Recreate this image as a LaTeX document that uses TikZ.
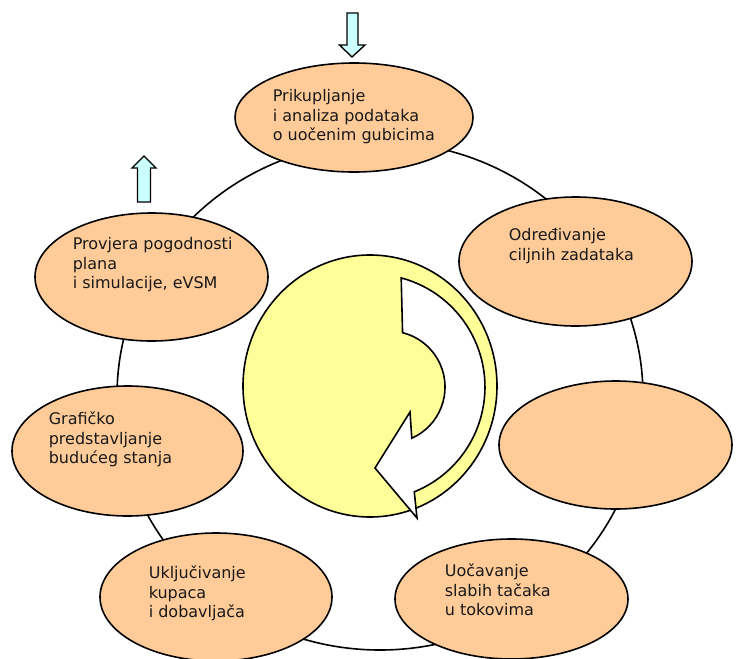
\documentclass[tikz,border=0pt]{standalone}
\usepackage{fontspec}
\setmainfont{DejaVu Sans}
\usetikzlibrary{shapes.geometric}
\definecolor{peach}{HTML}{FFCC99}
\definecolor{lyellow}{HTML}{FFFF99}
\definecolor{lcyan}{HTML}{CCFFFF}
\begin{document}
\begin{tikzpicture}[x=1pt,y=-1pt, line width=1.6pt,
  stage/.style={ellipse, draw=black, fill=peach, inner sep=0pt},
  lbl/.style={anchor=north west, inner sep=0pt, align=left, font=\fontsize{16}{19.5}\selectfont, text=black!90},
  blockarrow/.style={draw=black, fill=lcyan, line width=1.4pt, line join=miter}]
\useasboundingbox (0,0) rectangle (737,659);
% ring behind the stages
\draw (380,396) ellipse [x radius=263, y radius=254];
% stages
\node[stage, minimum width=238pt, minimum height=109pt] (e1) at (354,117.5) {};
\node[stage, minimum width=233pt, minimum height=129pt] (e2) at (575.5,261.5) {};
\node[stage, minimum width=233pt, minimum height=128pt] (e3) at (615.5,445) {};
\node[stage, minimum width=233pt, minimum height=120pt] (e4) at (511.5,599) {};
\node[stage, minimum width=232pt, minimum height=128pt] (e5) at (216,597) {};
\node[stage, minimum width=231pt, minimum height=130pt] (e6) at (127.5,451) {};
\node[stage, minimum width=233pt, minimum height=128pt] (e7) at (151.5,277) {};
% labels
\node[lbl] (t1) at (272,89) {Prikupljanje\\i analiza podataka\\o uočenim gubicima};
\node[lbl] (t2) at (508,228) {Određivanje\\ciljnih zadataka};
\node[lbl] (t4) at (444,563) {Uočavanje\\slabih tačaka\\u tokovima};
\node[lbl] (t5) at (148,565) {Uključivanje\\kupaca\\i dobavljača};
\node[lbl] (t6) at (48,411) {Grafičko\\predstavljanje\\budućeg stanja};
\node[lbl] (t7) at (72,237) {Provjera pogodnosti\\plana\\i simulacije, eVSM};
% central cycle symbol
\node[ellipse, draw=black, fill=lyellow, minimum width=254pt, minimum height=262pt, inner sep=0pt] (cyc) at (370,386) {};
\draw[fill=white, line join=miter]
  (401.2,277.9) arc[start angle=-75, end angle=68, radius=113]
  -- (417,518) -- (375,468) -- (410,412) -- (411.8,438.2)
  arc[start angle=66, end angle=-76, radius=56] -- cycle;
% block arrows
\draw[blockarrow] (347,13) -- (358,13) -- (358,45) -- (365,45) -- (352,57) -- (339.5,45) -- (347,45) -- cycle;
\draw[blockarrow] (137.5,202) -- (150.5,202) -- (150.5,168) -- (156,168) -- (144,156) -- (132,168) -- (137.5,168) -- cycle;
\end{tikzpicture}
\end{document}
